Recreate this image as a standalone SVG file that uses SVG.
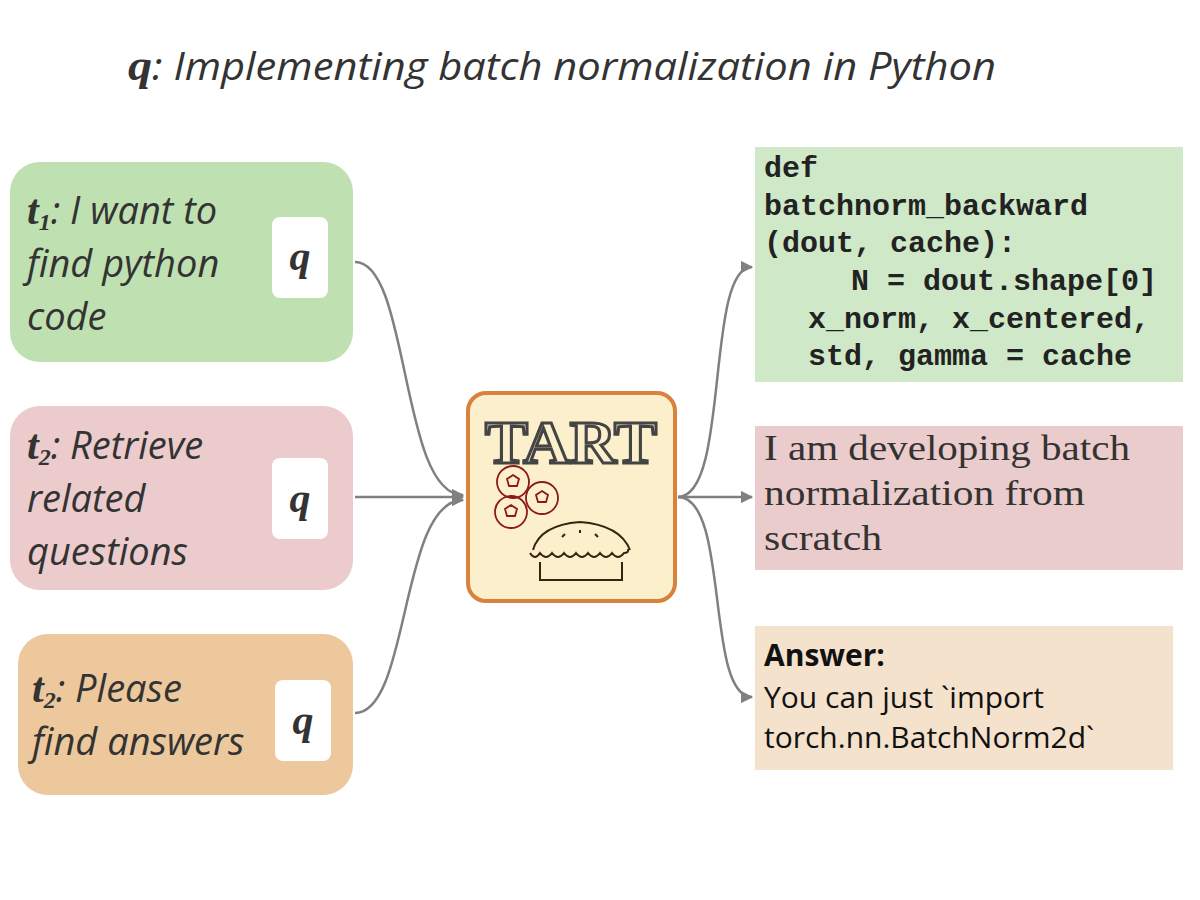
<svg xmlns="http://www.w3.org/2000/svg" width="1200" height="900" viewBox="0 0 1200 900">
<defs>
<style>
.t{font-family:"Open Sans","Liberation Sans",sans-serif;font-style:italic;fill:#333;font-size:38px}
.v{font-family:"Liberation Serif",serif;font-weight:bold;font-style:italic;fill:#333}
.q{fill:#fff}
.mono{font-family:"Liberation Mono",monospace;font-weight:bold;font-size:30px;fill:#222}
.ser{font-family:"Liberation Serif",serif;font-size:36px;fill:#333}
.c{fill:none;stroke:#808080;stroke-width:2.5}
.a{font-family:"Open Sans","Liberation Sans",sans-serif;font-size:30px;fill:#111}
</style>
<marker id="a" viewBox="0 0 10 10" refX="9" refY="5" markerWidth="5" markerHeight="5" orient="auto"><path d="M0,0L10,5L0,10z" fill="#808080"/></marker>
</defs>
<rect width="1200" height="900" fill="#fff"/>
<text x="128" y="80" textLength="868" lengthAdjust="spacingAndGlyphs"><tspan class="v" font-size="44">q</tspan><tspan class="t" font-size="40">: Implementing batch normalization in Python</tspan></text>
<g id="n1">
<rect x="10" y="162" width="343" height="200" rx="30" fill="#bfe0b0"/>
<rect class="q" x="272" y="217" width="56" height="81" rx="8"/>
<text x="300" y="270" class="v" font-size="42" text-anchor="middle">q</text>
<text class="t" x="27" y="224"><tspan class="v" font-size="42">t<tspan font-size="24" dy="6">1</tspan></tspan><tspan dy="-6">: I want to</tspan></text>
<text class="t" x="27" y="277">find python</text>
<text class="t" x="27" y="330">code</text>
</g>
<g id="n2">
<rect x="10" y="406" width="343" height="184" rx="30" fill="#ebcbcb"/>
<rect class="q" x="272" y="458" width="56" height="81" rx="8"/>
<text x="300" y="512" class="v" font-size="42" text-anchor="middle">q</text>
<text class="t" x="27" y="459"><tspan class="v" font-size="42">t<tspan font-size="24" dy="6">2</tspan></tspan><tspan dy="-6">: Retrieve</tspan></text>
<text class="t" x="27" y="512">related</text>
<text class="t" x="27" y="565">questions</text>
</g>
<g id="n3">
<rect x="18" y="634" width="335" height="161" rx="30" fill="#ecc89c"/>
<rect class="q" x="275" y="680" width="56" height="81" rx="8"/>
<text x="303" y="734" class="v" font-size="42" text-anchor="middle">q</text>
<text class="t" x="32" y="702"><tspan class="v" font-size="42">t<tspan font-size="24" dy="6">2</tspan></tspan><tspan dy="-6">: Please</tspan></text>
<text class="t" x="32" y="755">find answers</text>
</g>
<g id="tart">
<rect x="468" y="393" width="207" height="208" rx="18" fill="#fcefcc" stroke="#d9823b" stroke-width="4"/>
<text x="571" y="463" text-anchor="middle" font-family="Liberation Serif,serif" font-weight="bold" font-size="62" fill="#fcefcc" stroke="#444" stroke-width="3" textLength="172" lengthAdjust="spacingAndGlyphs">TART</text>
<g fill="none" stroke="#8b1a1a" stroke-width="1.8">
<circle cx="513" cy="482" r="16"/><circle cx="542" cy="498" r="16"/><circle cx="511" cy="512" r="16"/>
<path d="M513,475l6,4-2,7h-8l-2-7z"/><path d="M542,491l6,4-2,7h-8l-2-7z"/><path d="M511,505l6,4-2,7h-8l-2-7z"/>
</g>
<g fill="none" stroke="#3a2210" stroke-width="2">
<path d="M533,550 Q540,525 580,522 Q620,525 630,550"/>
<path d="M530,553 q5,8 10,0 q6,8 12,0 q6,8 12,0 q6,8 12,0 q6,8 12,0 q6,8 12,0 q6,8 12,0 q6,8 12,0 q5,0 4,-4"/>
<path d="M540,562 V580 H622 V562"/>
<path d="M562,537l3,-3M580,533v-3M598,537l-3,-3"/>
</g>
</g>
<g id="r1">
<rect x="755" y="147" width="428" height="235" fill="#cfe8c7"/>
<text class="mono" x="764" y="177">def</text>
<text class="mono" x="764" y="215">batchnorm_backward</text>
<text class="mono" x="764" y="252">(dout, cache):</text>
<text class="mono" x="851" y="290">N = dout.shape[0]</text>
<text class="mono" x="808" y="328">x_norm, x_centered,</text>
<text class="mono" x="808" y="365">std, gamma = cache</text>
</g>
<g id="r2">
<rect x="755" y="426" width="428" height="144" fill="#ebcccc"/>
<text class="ser" x="764" y="460" textLength="366" lengthAdjust="spacingAndGlyphs">I am developing batch</text>
<text class="ser" x="764" y="505" textLength="321" lengthAdjust="spacingAndGlyphs">normalization from</text>
<text class="ser" x="764" y="550" textLength="118" lengthAdjust="spacingAndGlyphs">scratch</text>
</g>
<g id="r3">
<rect x="755" y="626" width="418" height="144" fill="#f5e2cc"/>
<text class="a" x="764" y="666" font-weight="bold">Answer:</text>
<text class="a" x="764" y="708"> You can just `import</text>
<text class="a" x="764" y="748">torch.nn.BatchNorm2d`</text>
</g>
<g id="connectors">
<path class="c" marker-end="url(#a)" d="M355,262 C410,262 400,495 463,495"/>
<path class="c" marker-end="url(#a)" d="M355,497 H463"/>
<path class="c" marker-end="url(#a)" d="M355,713 C410,713 400,500 463,500"/>
<path class="c" marker-end="url(#a)" d="M678,497 C730,497 705,267 752,267"/>
<path class="c" marker-end="url(#a)" d="M678,497 H752"/>
<path class="c" marker-end="url(#a)" d="M678,497 C730,497 705,697 752,697"/>
</g>
</svg>
